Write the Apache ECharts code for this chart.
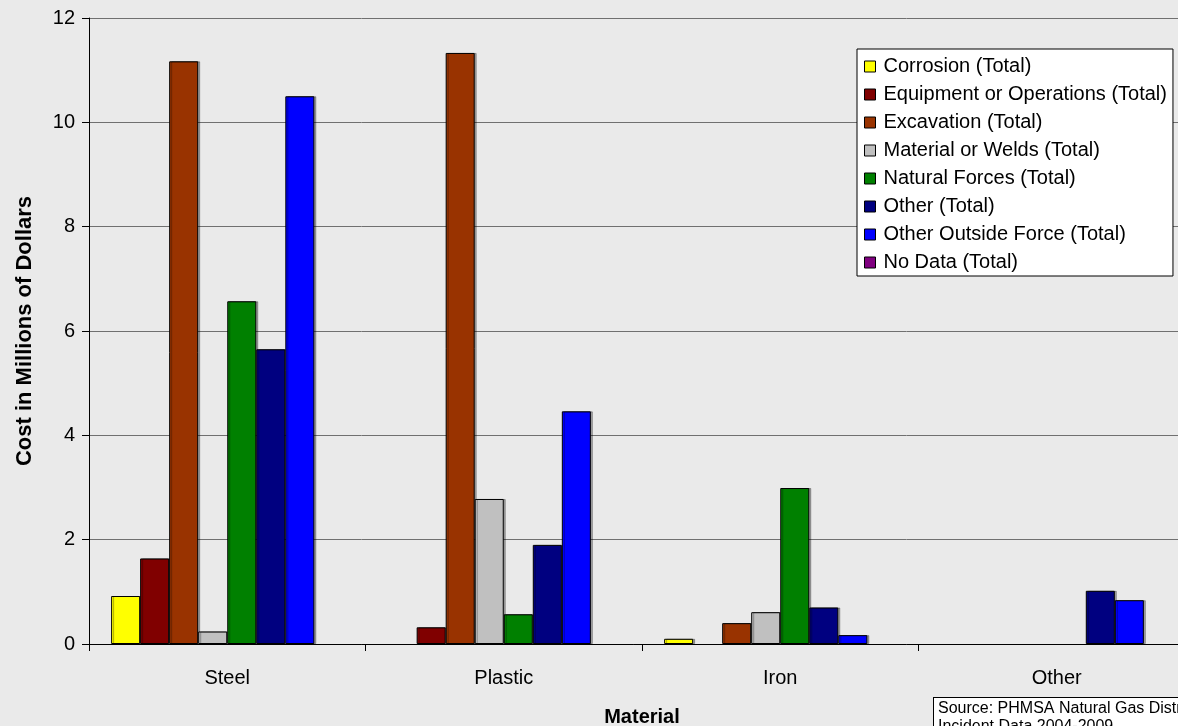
<!DOCTYPE html>
<html><head><meta charset="utf-8">
<script src="https://cdn.jsdelivr.net/npm/echarts@6/dist/echarts.min.js"></script>
<style>html,body{margin:0;padding:0;background:#eaeaea;overflow:hidden;}#c{width:1178px;height:726px;}</style>
</head><body><div id="c"></div>
<script>
const categories = ['Steel', 'Plastic', 'Iron', 'Other'];
const seriesNames = ['Corrosion (Total)', 'Equipment or Operations (Total)', 'Excavation (Total)', 'Material or Welds (Total)', 'Natural Forces (Total)', 'Other (Total)', 'Other Outside Force (Total)', 'No Data (Total)'];
const colors = ['#ffff00', '#800000', '#993300', '#c0c0c0', '#008000', '#000080', '#0000ff', '#800080'];
const corrosion = [0.92, null, 0.10, null];
const equipment = [1.64, 0.32, null, null];
const excavation = [11.17, 11.33, 0.40, null];
const material = [0.24, 2.78, 0.61, null];
const natural = [6.57, 0.57, 2.99, null];
const other = [5.65, 1.90, 0.70, 1.02];
const otherOutside = [10.50, 4.46, 0.17, 0.84];
const noData = [null, null, null, null];
const yTicks = [0, 2, 4, 6, 8, 10, 12];
const allData = [corrosion, equipment, excavation, material, natural, other, otherOutside, noData];

const font = 'Liberation Sans, Arial, sans-serif';
const chart = echarts.init(document.getElementById('c'), null, { width: 1178, height: 726 });
chart.setOption({
  backgroundColor: '#eaeaea',
  animation: false,
  textStyle: { fontFamily: font, color: '#000' },
  grid: { left: 89, top: 18, width: 1106, height: 626, containLabel: false, outerBoundsMode: 'none' },
  legend: {
    orient: 'vertical', left: 857, top: 49,
    backgroundColor: '#fff', borderColor: '#000', borderWidth: 1,
    padding: [6, 6, 2, 7], itemGap: 5, itemWidth: 11, itemHeight: 11,
    icon: 'rect',
    itemStyle: { borderColor: '#000', borderWidth: 1 },
    textStyle: { fontFamily: font, fontSize: 20, color: '#000', padding: [0, 0, 0, 3], lineHeight: 23 },
    data: seriesNames
  },
  xAxis: {
    type: 'category', data: categories,
    name: 'Material', nameLocation: 'middle', nameGap: 63,
    nameTextStyle: { fontFamily: font, fontSize: 20, fontWeight: 'bold', color: '#000' },
    axisLine: { lineStyle: { color: '#000', width: 1 } },
    axisTick: { show: true, length: 7, lineStyle: { color: '#000' } },
    axisLabel: { fontFamily: font, fontSize: 20, color: '#000', margin: 24 }
  },
  yAxis: {
    type: 'value', min: 0, max: 12, interval: 2,
    name: 'Cost in Millions of Dollars', nameLocation: 'middle', nameGap: 53,
    nameTextStyle: { fontFamily: 'Liberation Sans Narrow, Liberation Sans, sans-serif', fontSize: 22, fontWeight: 'bold', color: '#000' },
    axisLine: { show: true, lineStyle: { color: '#000', width: 1 } },
    axisTick: { show: true, length: 7, lineStyle: { color: '#000' } },
    axisLabel: { fontFamily: font, fontSize: 20, color: '#000', margin: 14,
      formatter: v => yTicks.includes(v) ? String(v) : '' },
    splitLine: { show: true, lineStyle: { color: '#707070', width: 1 } }
  },
  series: seriesNames.map((n, i) => ({
    name: n, type: 'bar', data: allData[i],
    barGap: '0%', barCategoryGap: '16%',
    itemStyle: { color: colors[i], borderColor: '#000', borderWidth: 1,
      shadowColor: 'rgba(0,0,0,0.3)', shadowOffsetX: 2, shadowOffsetY: 0, shadowBlur: 0 }
  })),
  graphic: [{
    type: 'text', left: 933, top: 697,
    style: { text: 'Source: PHMSA Natural Gas Distribution\nIncident Data 2004-2009', font: '16px ' + font, fill: '#000',
      lineHeight: 18, padding: [2, 4, 2, 4], backgroundColor: '#fff', borderColor: '#000', borderWidth: 1 }
  }]
});
</script></body></html>
